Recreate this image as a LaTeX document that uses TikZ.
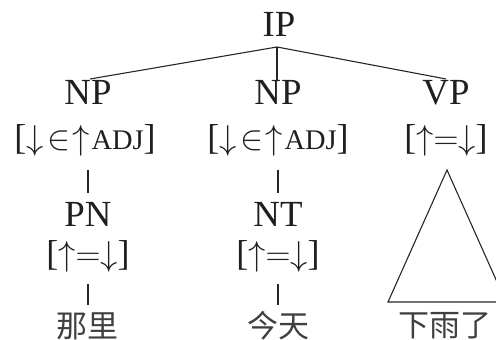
\documentclass[tikz,border=0pt]{standalone}
\usepackage{fontspec}
\setmainfont{Liberation Serif}
\newfontfamily\cjk{Noto Sans CJK SC}
\newcommand{\adjsc}{{\fontsize{14.2}{16}\selectfont ADJ}}
\begin{document}
\begin{tikzpicture}[x=0.5pt,y=-0.5pt,
  cat/.style={anchor=base,inner sep=0pt,text=black!88,font=\fontsize{18.4}{22}\selectfont},
  feat/.style={anchor=center,inner sep=0pt,text=black!88,font=\fontsize{18}{22}\selectfont},
  word/.style={anchor=center,inner sep=0pt,text=black!75,font=\cjk\fontsize{15.5}{18}\selectfont},
  edge/.style={line width=0.55pt,draw=black!85}]
\useasboundingbox (0,0) rectangle (496,340);
\node[cat] (IP) at (279,37) {IP};
\node[cat] (NP1) at (88,105) {NP};
\node[cat] (NP2) at (278,105) {NP};
\node[cat] (VP) at (446,105) {VP};
\node[feat] (F1) at (85,140) {[$\downarrow\mkern2mu\in\mkern1mu\uparrow$\kern1pt\adjsc]};
\node[feat] (F2) at (278,140) {[$\downarrow\mkern2mu\in\mkern1mu\uparrow$\kern1pt\adjsc]};
\node[feat] (F3) at (446,140) {[$\uparrow=\downarrow$]};
\node[cat] (PN) at (88,227) {PN};
\node[cat] (NT) at (278,227) {NT};
\node[feat] (F4) at (88,256) {[$\uparrow=\downarrow$]};
\node[feat] (F5) at (278,256) {[$\uparrow=\downarrow$]};
\node[word] (W1) at (87,326) {那里};
\node[word] (W2) at (278,326) {今天};
\node[word] (W3) at (445,326) {下雨了};
% edge points
\coordinate (ipb) at (277,47);
\coordinate (np1t) at (90,79);
\coordinate (np2t) at (277,80);
\coordinate (vpt) at (446,79);
\coordinate (f1b) at (88,170);
\coordinate (pnt) at (88,193);
\coordinate (f2b) at (278,170);
\coordinate (ntt) at (278,193);
\coordinate (f4b) at (88,284);
\coordinate (w1t) at (88,305);
\coordinate (f5b) at (278,284);
\coordinate (w2t) at (278,305);
\coordinate (apex) at (447,170);
\coordinate (bl) at (388,302);
\coordinate (br) at (506,302);
\draw[edge] (ipb) -- (np1t);
\draw[edge] (ipb) -- (np2t);
\draw[edge] (ipb) -- (vpt);
\draw[edge] (f1b) -- (pnt);
\draw[edge] (f2b) -- (ntt);
\draw[edge] (f4b) -- (w1t);
\draw[edge] (f5b) -- (w2t);
\draw[edge] (apex) -- (bl) -- (br) -- cycle;
\end{tikzpicture}
\end{document}
